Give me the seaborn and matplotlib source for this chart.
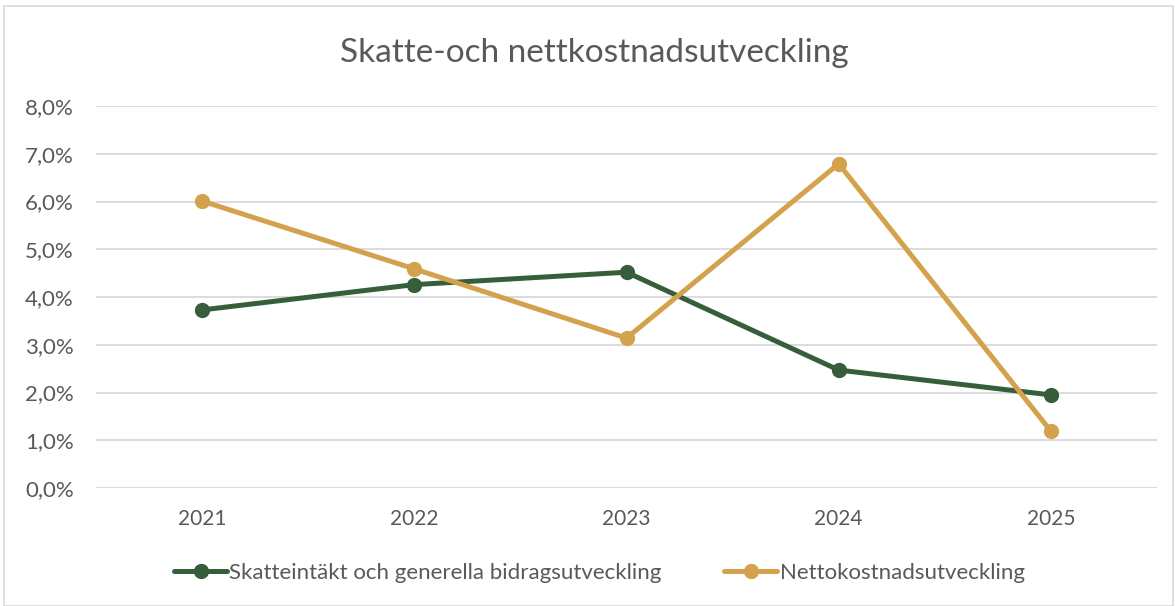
import pandas as pd
import matplotlib
matplotlib.use("Agg")
import matplotlib.pyplot as plt
from matplotlib.ticker import FuncFormatter
from matplotlib.patches import Rectangle
import seaborn as sns

years = ["2021", "2022", "2023", "2024", "2025"]
skatt = [3.73, 4.26, 4.52, 2.47, 1.95]
netto = [6.01, 4.59, 3.14, 6.79, 1.19]
series_names = ["Skatteintäkt och generella bidragsutveckling", "Nettokostnadsutveckling"]
colors = {series_names[0]: "#375E3B", series_names[1]: "#D4A24C"}

df = pd.DataFrame({
    "År": years * 2,
    "Värde": skatt + netto,
    "Serie": [series_names[0]] * len(years) + [series_names[1]] * len(years),
})

sns.set_style("white")
plt.rcParams["font.family"] = ["Lato", "DejaVu Sans"]
text_color = "#595959"

fig = plt.figure(figsize=(11.75, 6.06), dpi=100)
ax = fig.add_axes([0.0817, 0.1947, 0.9030, 0.6303])

sns.lineplot(data=df, x="År", y="Värde", hue="Serie", palette=colors,
             marker="o", markersize=11, markeredgewidth=0, linewidth=3.6,
             sort=False, ax=ax)

ax.set_ylim(0, 8)
ax.set_xlim(-0.5, 4.5)
ax.set_yticks(range(0, 9))
ax.yaxis.set_major_formatter(FuncFormatter(lambda v, p: f"{v:.1f}%".replace(".", ",")))
ax.grid(True, axis="y", color="#D9D9D9", linewidth=1.3)
ax.set_axisbelow(True)
for s in ax.spines.values():
    s.set_visible(False)
ax.tick_params(axis="x", length=0, labelsize=15, colors=text_color, pad=15)
ax.tick_params(axis="y", length=0, labelsize=16, colors=text_color, pad=16)
ax.set_xlabel("")
ax.set_ylabel("")

fig.text(0.506, 0.913, "Skatte-och nettkostnadsutveckling", ha="center", va="center",
         fontsize=24, color=text_color)

handles, labels = ax.get_legend_handles_labels()
ax.legend_.remove()
fig.legend(handles, labels, loc="center", bbox_to_anchor=(0.51, 0.054), ncol=2,
           frameon=False, fontsize=16, labelcolor=text_color, handlelength=2.4,
           handletextpad=0.1, columnspacing=2.8)

fig.patches.append(Rectangle((0.003, 0.0), 0.995, 0.99, transform=fig.transFigure,
                             fill=False, edgecolor="#D9D9D9", linewidth=1.2))

fig.savefig("out.png", dpi=100)
